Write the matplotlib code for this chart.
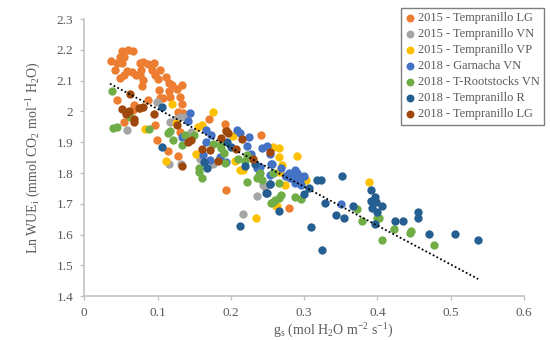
import matplotlib
matplotlib.use('Agg')
import matplotlib.pyplot as plt

plt.rcParams['font.family'] = ['Liberation Serif', 'DejaVu Serif']
plt.rcParams['mathtext.fontset'] = 'custom'
plt.rcParams['mathtext.rm'] = 'Liberation Serif'
plt.rcParams['mathtext.it'] = 'Liberation Serif'
plt.rcParams['mathtext.default'] = 'rm'

labels = ['2015 - Tempranillo LG', '2015 - Tempranillo VN', '2015 - Tempranillo VP', '2018 - Garnacha VN',
          '2018 - T-Rootstocks VN', '2018 - Tempranillo R', '2018 - Tempranillo LG']
colors = ['#ED7D31', '#A5A5A5', '#FFC000', '#4472C4', '#70AD47', '#255E91', '#9E480E']

######每個系列的數值########
lg15_x = [.037, .051, .059, .066, .049, .054, .044, .042, .051, .058, .049, .054, .065, .071, .076, .080, .078, .076,
          .080, .079, .087, .095, .092, .096, .103, .100, .112, .115, .119, .102, .127, .134, .115, .117, .108, .103,
          .131, .133, .128, .135, .044, .068, .067, .076, .087, .054, .097, .099, .114, .128, .170, .192, .194, .241,
          .131, .193, .280]
lg15_y = [2.164, 2.197, 2.200, 2.197, 2.178, 2.178, 2.156, 2.134, 2.156, 2.132, 2.107, 2.118, 2.129, 2.118, 2.156,
          2.161, 2.134, 2.118, 2.102, 2.082, 2.154, 2.156, 2.134, 2.118, 2.134, 2.104, 2.113, 2.091, 2.086, 2.069,
          2.073, 2.086, 2.067, 2.048, 2.042, 2.042, 2.048, 2.024, 1.999, 1.994, 2.037, 2.021, 2.005, 2.010, 2.037,
          1.967, 1.955, 1.907, 1.872, 1.856, 1.976, 1.959, 1.940, 1.924, 1.934, 1.746, 1.687]

vn15_x = [.058, .099, .117, .131, .137, .146, .116, .132, .158, .235, .217, .246, .244, .274, .175, .125, .140]
vn15_y = [1.940, 2.032, 1.967, 1.983, 1.983, 1.934, 1.831, 1.831, 1.844, 1.727, 1.668, 1.755, 1.760, 1.790, 1.830,
          1.975, 1.975]

vp15_x = [.083, .119, .176, .160, .111, .152, .203, .206, .258, .125, .234, .216, .270, .265, .274, .302, .263, .388,
          .262, .265, .266, .290, .155, .212]
vp15_y = [1.943, 2.024, 1.999, 1.956, 1.840, 1.861, 1.921, 1.839, 1.885, 1.961, 1.655, 1.809, 1.826, 1.804, 1.761,
          1.778, 1.693, 1.772, 1.693, 1.880, 1.853, 1.855, 1.950, 1.810]

gar_x = [.144, .141, .133, .166, .173, .208, .212, .225, .222, .242, .249, .253, .228, .162, .171, .185, .194, .255,
         .235, .166, .240, .236, .256, .269, .287, .292, .285, .294, .281, .287, .296, .258, .253, .350, .280, .275,
         .290, .300]
gar_y = [1.994, 1.970, 1.916, 1.940, 1.923, 1.940, 1.929, 1.918, 1.889, 1.880, 1.889, 1.862, 1.862, 1.858, 1.842,
         1.853, 1.837, 1.831, 1.815, 1.902, 1.821, 1.823, 1.831, 1.815, 1.810, 1.794, 1.783, 1.778, 1.783, 1.767,
         1.761, 1.799, 1.794, 1.700, 1.800, 1.790, 1.800, 1.790]

roots_x = [.038, .039, .044, .088, .117, .114, .121, .133, .137, .062, .156, .160, .156, .222, .187, .190, .185, .210,
           .222, .219, .192, .240, .235, .243, .238, .265, .258, .269, .265, .258, .255, .260, .288, .296, .372, .379,
           .399, .402, .423, .446, .444, .406, .477, .150, .175]
roots_y = [2.066, 1.947, 1.950, 1.942, 1.937, 1.929, 1.907, 1.891, 1.923, 1.983, 1.817, 1.784, 1.803, 1.772, 1.880,
           1.866, 1.890, 1.845, 1.860, 1.838, 1.834, 1.799, 1.783, 1.778, 1.793, 1.767, 1.799, 1.729, 1.718, 1.707,
           1.702, 1.713, 1.722, 1.716, 1.682, 1.644, 1.653, 1.655, 1.618, 1.612, 1.604, 1.584, 1.566, 1.925, 1.895]

r18_x = [.106, .106, .168, .212, .249, .254, .195, .219, .163, .233, .253, .248, .266, .300, .307, .318, .323, .351,
         .391, .396, .391, .398, .406, .329, .366, .393, .399, .344, .355, .397, .424, .435, .455, .456, .470, .506,
         .537, .309, .324, .200]
r18_y = [1.886, 2.015, 1.815, 1.629, 1.736, 1.764, 1.902, 1.823, 1.837, 1.831, 1.763, 1.735, 1.678, 1.732, 1.751,
         1.779, 1.779, 1.790, 1.745, 1.721, 1.710, 1.706, 1.694, 1.702, 1.694, 1.685, 1.672, 1.664, 1.653, 1.634,
         1.646, 1.646, 1.672, 1.655, 1.601, 1.602, 1.582, 1.625, 1.550, 1.885]

lg18_x = [.062, .052, .057, .061, .068, .068, .080, .095, .127, .142, .146, .133, .160, .171, .183, .187, .194, .207,
          .215, .230, .253, .075, .196]
lg18_y = [2.055, 2.008, 1.992, 2.000, 1.974, 1.965, 2.015, 1.993, 1.957, 1.902, 1.907, 1.822, 1.878, 1.875, 1.840,
          1.913, 1.938, 1.878, 1.910, 1.845, 1.869, 2.012, 1.930]

trend_x = [.035, .5375]
trend_y = [2.09, 1.456]

xticks = [0, .1, .2, .3, .4, .5, .6]
xtick_labels = ['0', '0.1', '0.2', '0.3', '0.4', '0.5', '0.6']
yticks = [1.4, 1.5, 1.6, 1.7, 1.8, 1.9, 2, 2.1, 2.2, 2.3]
ytick_labels = ['1.4', '1.5', '1.6', '1.7', '1.8', '1.9', '2', '2.1', '2.2', '2.3']

series_x = [lg15_x, vn15_x, vp15_x, gar_x, roots_x, r18_x, lg18_x]
series_y = [lg15_y, vn15_y, vp15_y, gar_y, roots_y, r18_y, lg18_y]

fig = plt.figure(figsize=(5.5, 3.4), dpi=100)
ax = fig.add_axes([84.3 / 550, 43.7 / 340, 439.7 / 550, 277.3 / 340])

for i in range(len(labels)):
    ax.scatter(series_x[i], series_y[i], s=36, color=colors[i], linewidths=0, label=labels[i], clip_on=False, zorder=2 + i)
ax.plot(trend_x, trend_y, color='black', linewidth=1.3, linestyle=(0, (1, 1.3)), zorder=10)

ax.set_xlim(0, .6)
ax.set_ylim(1.4, 2.3)
ax.set_xticks(xticks)
ax.set_xticklabels(xtick_labels)
ax.set_yticks(yticks)
ax.set_yticklabels(ytick_labels)
ax.spines['top'].set_visible(False)
ax.spines['right'].set_visible(False)
ax.spines['left'].set_color('#BFBFBF')
ax.spines['bottom'].set_color('#BFBFBF')
ax.spines['left'].set_linewidth(1.1)
ax.spines['bottom'].set_linewidth(1.1)
ax.tick_params(axis='both', color='#BFBFBF', labelcolor='#595959', labelsize=9.5, length=3, width=0.9, pad=5)

ax.set_xlabel('g$_s$ (mol H$_2$O m$^{-2}$ s$^{-1}$)', fontsize=10, color='#595959', labelpad=2, x=0.566)
ax.set_ylabel('Ln WUE$_i$ (mmol CO$_2$ mol$^{-1}$ H$_2$O)', fontsize=10, color='#595959', labelpad=10)

leg = fig.legend(loc='upper left', bbox_to_anchor=(401 / 550, 1 - 7.5 / 340), borderaxespad=0, fontsize=8.9,
                 frameon=True, fancybox=False, framealpha=1, edgecolor='#7F7F7F', labelcolor='#595959',
                 labelspacing=0.33, handlelength=0.8, handletextpad=0.2, borderpad=0.35, markerscale=0.95)
leg.get_frame().set_linewidth(1.0)
leg.set_zorder(20)

fig.savefig('out.png', dpi=100)
